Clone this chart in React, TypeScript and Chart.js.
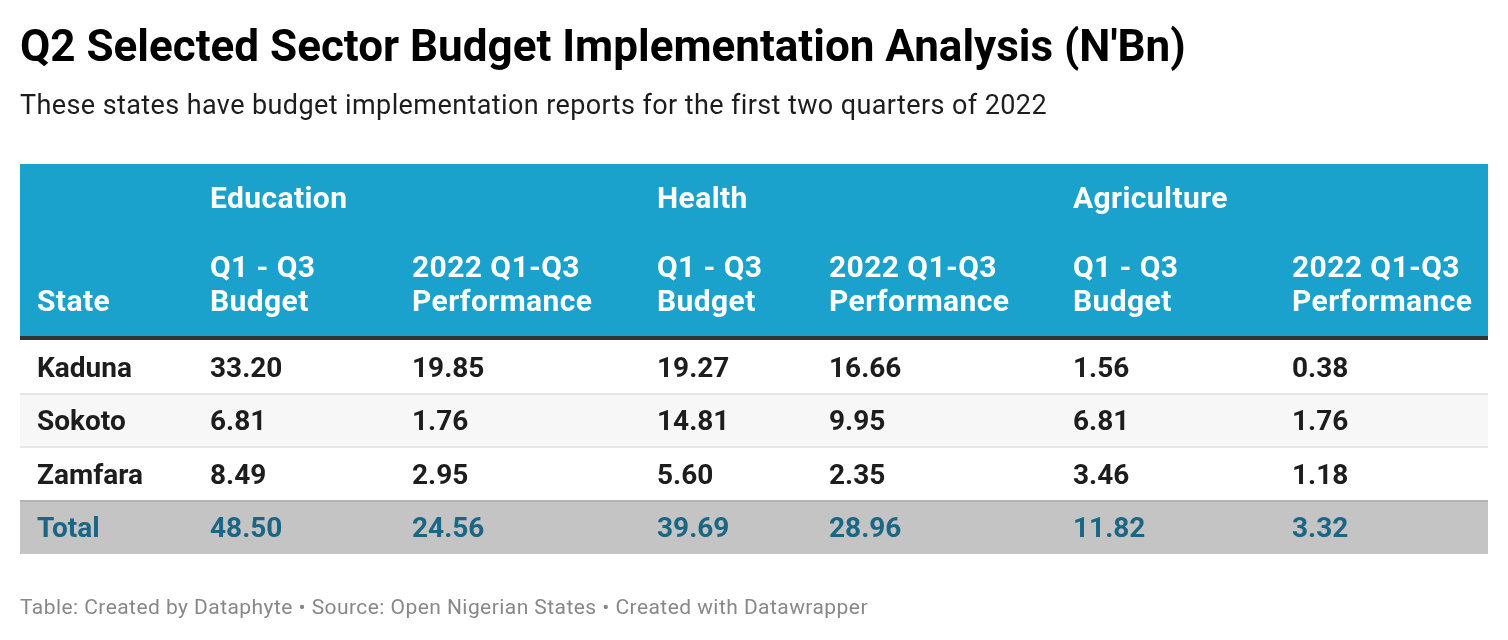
import React, { useEffect, useRef } from "react";
import { Chart, registerables } from "chart.js";

Chart.register(...registerables);

const TITLE = "Q2 Selected Sector Budget Implementation Analysis (N'Bn)";
const SUBTITLE = "These states have budget implementation reports for the first two quarters of 2022";
const FOOTER = "Table: Created by Dataphyte • Source: Open Nigerian States • Created with Datawrapper";

const sectors = ["Education", "Health", "Agriculture"];
const subHeaders = [["Q1 - Q3", "Budget"], ["2022 Q1-Q3", "Performance"]];
const stateHeader = "State";

const states = ["Kaduna", "Sokoto", "Zamfara"];
const totalLabel = "Total";
const eduBudget = [33.2, 6.81, 8.49];
const eduPerf = [19.85, 1.76, 2.95];
const healthBudget = [19.27, 14.81, 5.6];
const healthPerf = [16.66, 9.95, 2.35];
const agriBudget = [1.56, 6.81, 3.46];
const agriPerf = [0.38, 1.76, 1.18];
const totals = [48.5, 24.56, 39.69, 28.96, 11.82, 3.32];

// layout (px offsets from table's left edge)
const TABLE_W = 1468;
const colX = [17, 190, 392, 637, 809, 1053, 1272];

const FONT = "Roboto, 'Noto Sans', sans-serif";

function setSpacing(ctx: any, px: number) {
  if ("letterSpacing" in ctx) ctx.letterSpacing = `${px}px`;
}

export default function App() {
  const ref = useRef<HTMLCanvasElement | null>(null);

  useEffect(() => {
    document.body.style.margin = "0";
    const canvas = ref.current!;
    const rowLabels = [...states, totalLabel];
    const valueCols = [eduBudget, eduPerf, healthBudget, healthPerf, agriBudget, agriPerf];
    const rowColors = rowLabels.map((_, i) =>
      i === rowLabels.length - 1 ? "#c4c4c4" : i % 2 === 1 ? "#f7f7f7" : "#ffffff"
    );

    const tablePlugin = {
      id: "tablePlugin",
      beforeDraw(chart: any) {
        const ctx = chart.ctx;
        const xs = chart.scales.x;
        const left = xs.getPixelForValue(0);
        const right = xs.getPixelForValue(TABLE_W);
        ctx.save();
        ctx.fillStyle = "#ffffff";
        ctx.fillRect(0, 0, chart.width, chart.height);
        ctx.textAlign = "left";
        ctx.textBaseline = "alphabetic";
        // title
        ctx.fillStyle = "#000000";
        ctx.font = `bold 44px ${FONT}`;
        setSpacing(ctx, 0);
        ctx.fillText(TITLE, left, 60.5);
        // subtitle
        ctx.fillStyle = "#1d1d1d";
        ctx.font = `27px ${FONT}`;
        setSpacing(ctx, 0.4);
        ctx.fillText(SUBTITLE, left, 114);
        // header background
        const top = chart.chartArea.top;
        ctx.fillStyle = "#1aa1cc";
        ctx.fillRect(left, 164, right - left, top - 4 - 164);
        ctx.fillStyle = "#333333";
        ctx.fillRect(left, top - 4, right - left, 4);
        // header text
        ctx.fillStyle = "#ffffff";
        ctx.font = `bold 30px ${FONT}`;
        setSpacing(ctx, 0.4);
        sectors.forEach((s, i) => {
          ctx.fillText(s, xs.getPixelForValue(colX[1 + i * 2]), 207.5);
        });
        ctx.fillText(stateHeader, xs.getPixelForValue(colX[0]), 310.5);
        for (let c = 1; c < colX.length; c++) {
          const lines = subHeaders[(c - 1) % 2];
          const x = xs.getPixelForValue(colX[c]);
          ctx.fillText(lines[0], x, 277);
          ctx.fillText(lines[1], x, 310.5);
        }
        // footer
        ctx.fillStyle = "#888888";
        ctx.font = `21px ${FONT}`;
        setSpacing(ctx, 0.44);
        ctx.fillText(FOOTER, left, 614);
        setSpacing(ctx, 0);
        ctx.restore();
      },
      afterDatasetsDraw(chart: any) {
        const ctx = chart.ctx;
        const xs = chart.scales.x;
        const ys = chart.scales.y;
        const left = xs.getPixelForValue(0);
        const right = xs.getPixelForValue(TABLE_W);
        ctx.save();
        // separators
        for (let i = 1; i < rowLabels.length; i++) {
          const yb = (ys.getPixelForValue(i - 1) + ys.getPixelForValue(i)) / 2;
          ctx.fillStyle = i === rowLabels.length - 1 ? "#b4b4b4" : "#e6e6e6";
          ctx.fillRect(left, Math.round(yb) - 1, right - left, 2);
        }
        const fs = 28;
        ctx.font = `bold ${fs}px ${FONT}`;
        setSpacing(ctx, 0);
        ctx.textAlign = "left";
        ctx.textBaseline = "alphabetic";
        rowLabels.forEach((label, r) => {
          const isTotal = r === rowLabels.length - 1;
          const yc = ys.getPixelForValue(r);
          const yb = yc + (fs * 0.711) / 2;
          ctx.fillStyle = isTotal ? "#1b6585" : "#1d1d1d";
          ctx.fillText(label, xs.getPixelForValue(colX[0]), yb);
          valueCols.forEach((col, c) => {
            const v = isTotal ? totals[c] : col[r];
            ctx.fillText(v.toFixed(2), xs.getPixelForValue(colX[c + 1]), yb);
          });
        });
        ctx.restore();
      },
    };

    const chart = new Chart(canvas, {
      type: "bar",
      data: {
        labels: rowLabels,
        datasets: [
          {
            data: rowLabels.map(() => [0, TABLE_W]) as any,
            backgroundColor: rowColors,
            borderWidth: 0,
            barPercentage: 1,
            categoryPercentage: 1,
          },
        ],
      },
      options: {
        indexAxis: "y",
        animation: false,
        responsive: false,
        maintainAspectRatio: false,
        events: [],
        layout: { padding: { left: 20, right: 20, top: 340, bottom: 86 } },
        scales: {
          x: { type: "linear", min: 0, max: TABLE_W, display: false },
          y: { type: "category", display: false },
        },
        plugins: {
          legend: { display: false },
          tooltip: { enabled: false },
          title: { display: false },
        },
      },
      plugins: [tablePlugin],
    });
    return () => chart.destroy();
  }, []);

  return <canvas ref={ref} width={1508} height={640} style={{ display: "block", width: 1508, height: 640 }} />;
}
